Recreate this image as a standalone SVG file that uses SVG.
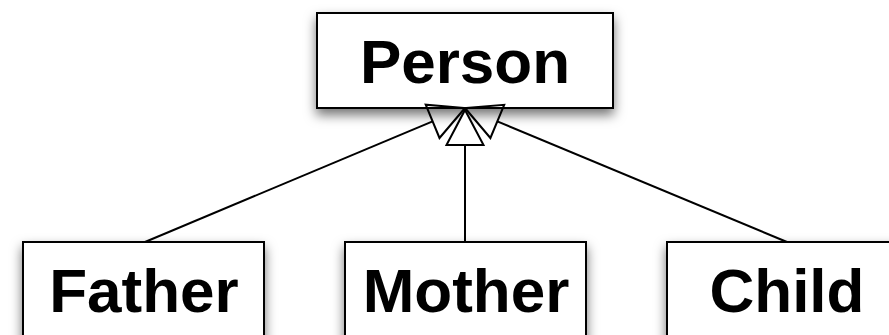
<svg xmlns="http://www.w3.org/2000/svg" width="889" height="335" viewBox="0 0 889 335">
<defs>
<filter id="sh" x="-20%" y="-30%" width="140%" height="170%">
<feDropShadow dx="0" dy="6" stdDeviation="6" flood-color="#000" flood-opacity="0.55"/>
</filter>
<style>
.box{fill:#fff;stroke:#000;stroke-width:2;filter:url(#sh)}
.lbl{font-family:"Liberation Sans",Arial,sans-serif;font-weight:bold;font-size:62px;fill:#000;text-anchor:middle}
.edge{stroke:#000;stroke-width:2;fill:none}
.head{stroke:#000;stroke-width:2;stroke-linejoin:miter}
</style>
</defs>
<rect width="889" height="335" fill="#fff"/>
<g id="Person">
<rect class="box" x="317" y="13" width="296" height="95"/>
<text class="lbl" x="465" y="83">Person</text>
</g>
<g id="Father">
<rect class="box" x="23" y="242" width="241" height="120"/>
<text class="lbl" x="144" y="312">Father</text>
</g>
<g id="Mother">
<rect class="box" x="345" y="242" width="241" height="120"/>
<text class="lbl" x="466" y="312">Mother</text>
</g>
<g id="Child">
<rect class="box" x="667" y="242" width="241" height="120"/>
<text class="lbl" x="787" y="312">Child</text>
</g>
<g id="connectors">
<line class="edge" x1="145" y1="242" x2="432.6" y2="121.3"/>
<line class="edge" x1="787" y1="242" x2="497.3" y2="121.4"/>
<line class="edge" x1="465" y1="242" x2="465" y2="145"/>
<polygon class="head" fill="none" points="465,108 439.5,138 425.7,104.7"/>
<polygon class="head" fill="none" points="465,108 490.4,138 504.2,104.8"/>
<polygon class="head" fill="#fff" points="465,110 483.5,145 446.5,145"/>
</g>
</svg>
